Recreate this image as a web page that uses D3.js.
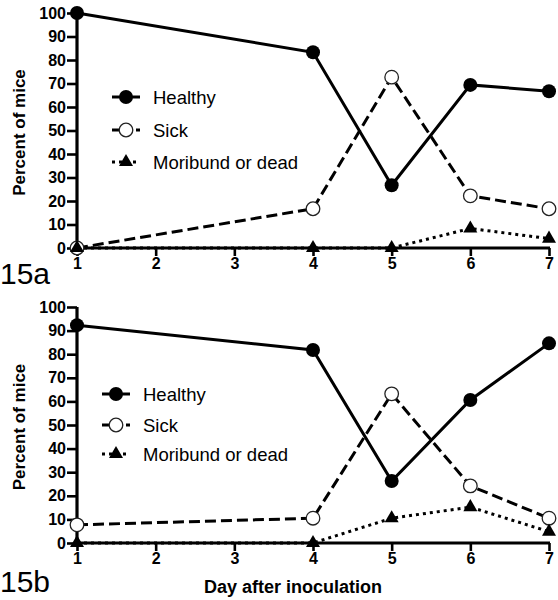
<!DOCTYPE html>
<html><head><meta charset="utf-8">
<script src="https://cdn.jsdelivr.net/npm/d3@7"></script>
<style>body{margin:0;background:#fff}svg{display:block}</style>
</head><body>
<svg id="c" width="558" height="600"></svg>
<script>
const days = [1, 4, 5, 6, 7];
const xTicks = [1, 2, 3, 4, 5, 6, 7];
const yTicks = [0, 10, 20, 30, 40, 50, 60, 70, 80, 90, 100];
const seriesNames = ["Healthy", "Sick", "Moribund or dead"];
const panelLabels = ["15a", "15b"];
const healthyA = [100, 83.3, 26.7, 69.4, 66.7];
const sickA = [0, 16.7, 72.7, 22.2, 16.7];
const deadA = [0, 0, 0, 8.3, 4.0];
const healthyB = [92.3, 81.8, 26.3, 60.6, 84.6];
const sickB = [7.7, 10.5, 63.2, 24.2, 10.5];
const deadB = [0, 0, 10.5, 15.2, 4.8];
const xTitle = "Day after inoculation";
const yTitle = "Percent of mice";

const svg = d3.select("#c");
const font = "'Liberation Sans', Arial, sans-serif";
const styles = [
  {dash: null, marker: "dot"},
  {dash: "11,5", marker: "open"},
  {dash: "3,4", marker: "tri"}
];

function drawMarker(g, type, x, y) {
  if (type === "dot") g.append("circle").attr("cx", x).attr("cy", y).attr("r", 7).attr("fill", "#000");
  else if (type === "open") g.append("circle").attr("cx", x).attr("cy", y).attr("r", 6.8).attr("fill", "#fff").attr("stroke", "#222").attr("stroke-width", 1.3);
  else g.append("path").attr("transform", `translate(${x},${y})`).attr("d", d3.symbol(d3.symbolTriangle, 85)()).attr("fill", "#000");
}

function panel(top, bottom, series, label, labelY, legendX, legendYs) {
  const x = d3.scaleLinear().domain([1, 7]).range([77, 549]);
  const y = d3.scaleLinear().domain([0, 100]).range([bottom, top]);
  const g = svg.append("g");

  series.forEach((vals, i) => {
    const line = d3.line().x((d, j) => x(days[j])).y(d => y(d));
    g.append("path").datum(vals).attr("d", line).attr("fill", "none")
      .attr("stroke", "#000").attr("stroke-width", 3)
      .attr("stroke-dasharray", styles[i].dash);
  });

  const xa = g.append("g").attr("transform", `translate(0,${bottom})`)
    .call(d3.axisBottom(x).tickValues(xTicks).tickFormat(d3.format("d")).tickSize(8).tickPadding(2));
  const ya = g.append("g").attr("transform", `translate(77,0)`)
    .call(d3.axisLeft(y).tickValues(yTicks).tickSize(10).tickPadding(1));
  [xa, ya].forEach(a => {
    a.select(".domain").attr("stroke", "#000").attr("stroke-width", 3.2);
    a.selectAll(".tick line").attr("stroke", "#000").attr("stroke-width", 2.6);
    a.selectAll("text").attr("fill", "#000").style("font-family", font).style("font-size", "16px").style("font-weight", "bold");
  });
  xa.select(".domain").attr("d", `M75.5,0H550`);
  ya.select(".domain").attr("d", `M0,${bottom + 1.5}V${top}`);

  series.forEach((vals, i) => {
    vals.forEach((v, j) => drawMarker(g, styles[i].marker, x(days[j]), y(v)));
  });

  g.append("text").attr("transform", `translate(19,${(top + bottom) / 2 + 2}) rotate(-90)`)
    .attr("text-anchor", "middle").attr("dy", "0.35em").style("font-family", font).style("font-size", "17px").style("font-weight", "bold")
    .text(yTitle);

  g.append("text").attr("x", 0).attr("y", labelY).style("font-family", font).style("font-size", "30px")
    .text(label);

  seriesNames.forEach((n, i) => {
    const ly = legendYs[i];
    g.append("line").attr("x1", legendX - 14).attr("x2", legendX + 14).attr("y1", ly).attr("y2", ly)
      .attr("stroke", "#000").attr("stroke-width", 3)
      .attr("stroke-dasharray", i === 1 ? "8,4" : (i === 2 ? "3,4" : null));
    drawMarker(g, styles[i].marker, legendX, ly);
    g.append("text").attr("x", legendX + 27).attr("y", ly + 6.5).style("font-family", font).style("font-size", "18.5px")
      .text(n);
  });
}

panel(13, 248, [healthyA, sickA, deadA], panelLabels[0], 284, 126, [97, 130, 162]);
panel(307, 543, [healthyB, sickB, deadB], panelLabels[1], 592, 116, [394, 425, 454]);

svg.append("text").attr("x", 293).attr("y", 593).attr("text-anchor", "middle")
  .style("font-family", font).style("font-size", "18px").style("font-weight", "bold").text(xTitle);
</script>
</body></html>
